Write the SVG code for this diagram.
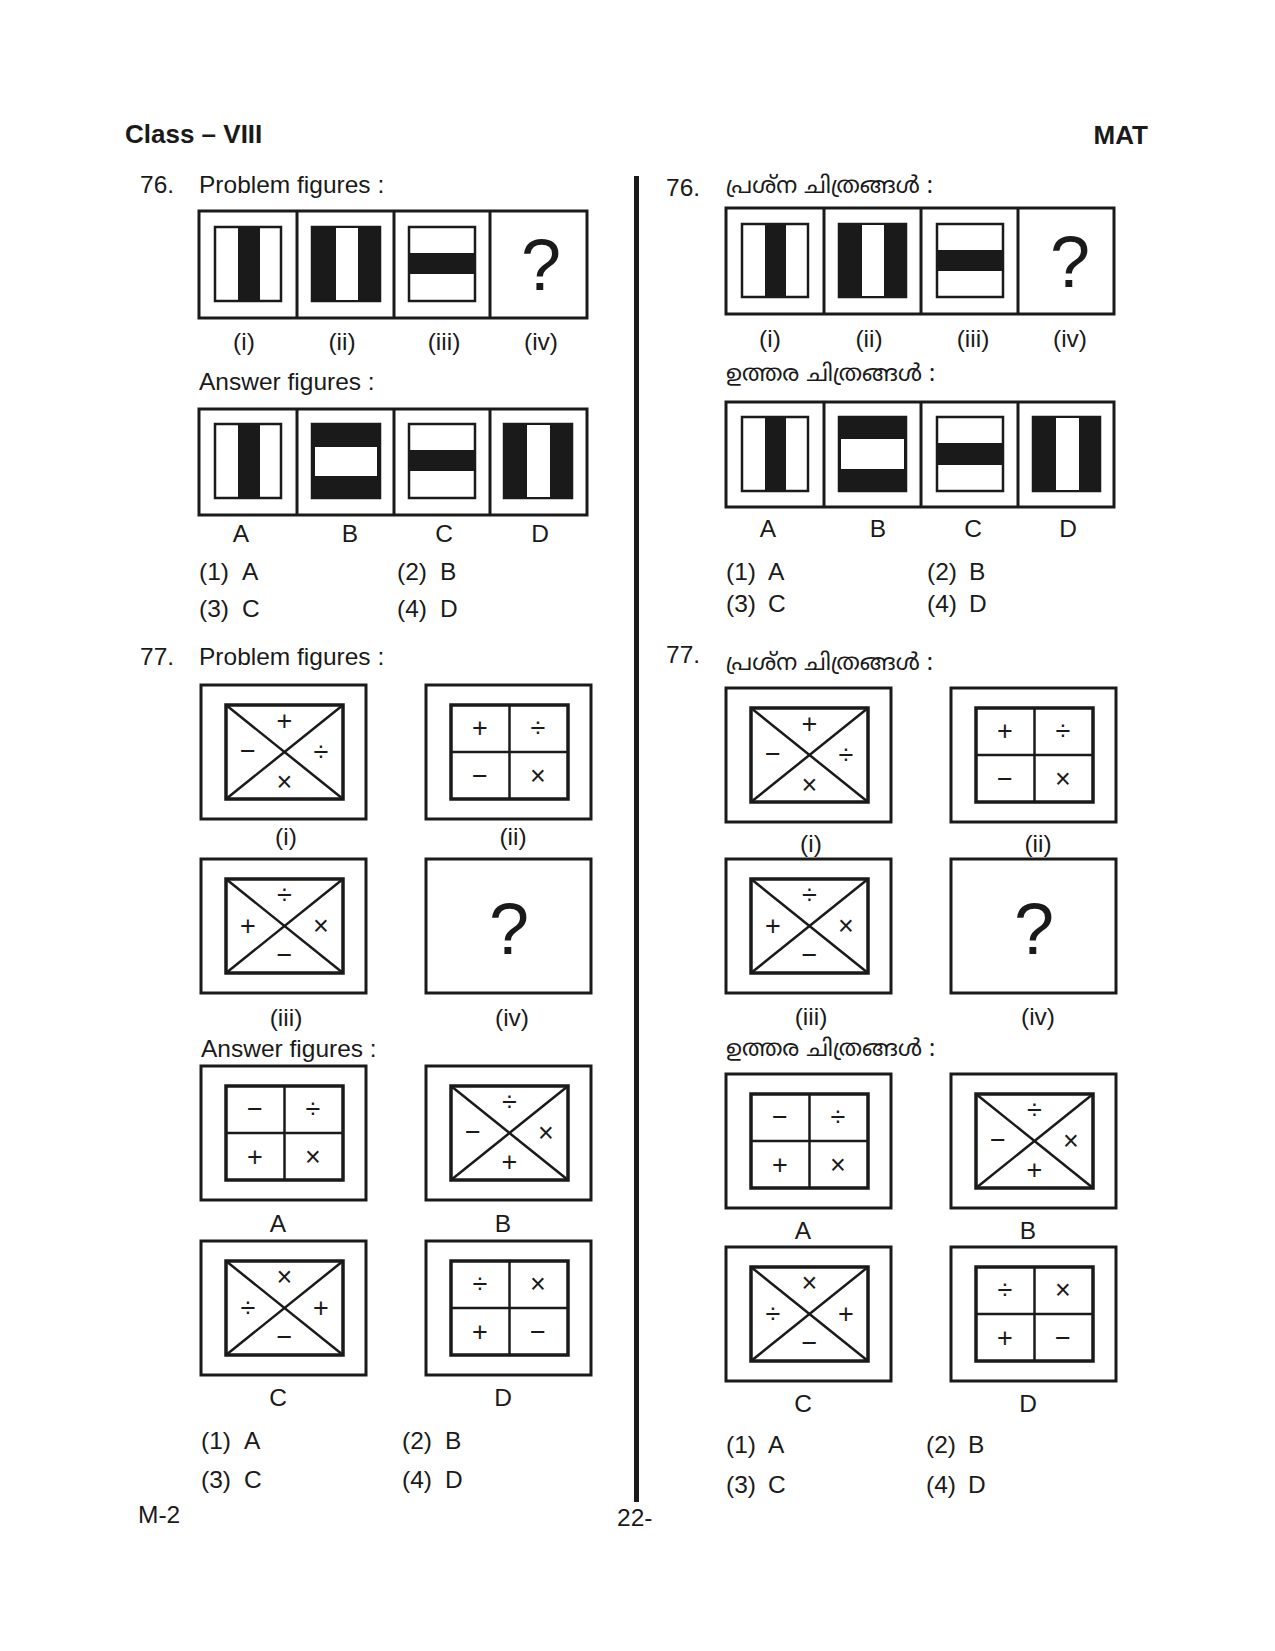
<svg xmlns="http://www.w3.org/2000/svg" width="1275" height="1651" viewBox="0 0 1275 1651">
<style>
text{font-family:"Liberation Sans",Arial,sans-serif;fill:#1a1a1a}
.t{font-size:24.5px}
.c{font-size:24.5px;text-anchor:middle}
.h{font-size:26px;font-weight:bold}
.q{font-size:72px;text-anchor:middle}
.s{font-size:27px;text-anchor:middle;dominant-baseline:central}
.ml{font-size:23px;font-family:"Noto Sans Malayalam","Noto Sans","DejaVu Sans",sans-serif}
.o{fill:none;stroke:#1a1a1a;stroke-width:3}
.i{fill:#fff;stroke:#1a1a1a;stroke-width:2.5}
.k{fill:#1a1a1a;stroke:#1a1a1a;stroke-width:2.5}
.w{fill:#fff}
.b{fill:#1a1a1a}
.ib{fill:none;stroke:#1a1a1a;stroke-width:3.5}
.d{stroke:#1a1a1a;stroke-width:2.5}
.v{stroke:#1a1a1a;stroke-width:3}
</style>
<defs>
<g id="box"><rect class="o" x="0" y="0" width="165" height="134"/><rect class="ib" x="25" y="20" width="117" height="94"/></g>
<g id="xbox"><use href="#box"/><line class="d" x1="25" y1="20" x2="142" y2="114"/><line class="d" x1="142" y1="20" x2="25" y2="114"/></g>
<g id="gbox"><use href="#box"/><line class="d" x1="83.5" y1="20" x2="83.5" y2="114"/><line class="d" x1="25" y1="67" x2="142" y2="67"/></g>
</defs>
<rect width="1275" height="1651" fill="#fff"/>
<text class="h" x="125" y="143">Class – VIII</text>
<text class="h" x="1148" y="144" text-anchor="end">MAT</text>
<rect x="634" y="176" width="5" height="1326" class="b"/>
<text class="t" x="140" y="193">76.</text>
<text class="t" x="199" y="193">Problem figures :</text>
<g id="L76p">
<rect class="o" x="199" y="211" width="388" height="107"/>
<line class="v" x1="297" y1="211" x2="297" y2="318"/><line class="v" x1="394" y1="211" x2="394" y2="318"/><line class="v" x1="490" y1="211" x2="490" y2="318"/>
<rect class="i" x="215" y="227" width="66" height="74"/><rect class="b" x="238" y="227" width="22" height="74"/>
<rect class="k" x="312" y="227" width="68" height="74"/><rect class="w" x="336" y="228" width="22" height="72"/>
<rect class="i" x="409" y="227" width="66" height="74"/><rect class="b" x="409" y="253" width="66" height="21"/>
<text class="q" x="541" y="290">?</text>
</g>
<text class="c" x="244" y="350">(i)</text><text class="c" x="342" y="350">(ii)</text><text class="c" x="444" y="350">(iii)</text><text class="c" x="541" y="350">(iv)</text>
<text class="t" x="199" y="390">Answer figures :</text>
<g id="L76a">
<rect class="o" x="199" y="409" width="388" height="106"/>
<line class="v" x1="297" y1="409" x2="297" y2="515"/><line class="v" x1="394" y1="409" x2="394" y2="515"/><line class="v" x1="490" y1="409" x2="490" y2="515"/>
<rect class="i" x="215" y="424" width="66" height="74"/><rect class="b" x="238" y="424" width="22" height="74"/>
<rect class="k" x="312" y="424" width="68" height="74"/><rect class="w" x="315" y="447" width="62" height="29"/>
<rect class="i" x="409" y="424" width="66" height="74"/><rect class="b" x="409" y="450" width="66" height="21"/>
<rect class="k" x="504" y="424" width="68" height="74"/><rect class="w" x="527" y="425" width="23" height="72"/>
</g>
<text class="c" x="241" y="542">A</text><text class="c" x="350" y="542">B</text><text class="c" x="444" y="542">C</text><text class="c" x="540" y="542">D</text>
<text class="t" x="199" y="580">(1)</text><text class="t" x="242" y="580">A</text><text class="t" x="397" y="580">(2)</text><text class="t" x="440" y="580">B</text>
<text class="t" x="199" y="617">(3)</text><text class="t" x="242" y="617">C</text><text class="t" x="397" y="617">(4)</text><text class="t" x="440" y="617">D</text>

<text class="t" x="140" y="665">77.</text>
<text class="t" x="199" y="665">Problem figures :</text>
<g id="L77i" transform="translate(201,685)"><use href="#xbox"/><text class="s" x="83.5" y="36">+</text><text class="s" x="47" y="66">−</text><text class="s" x="120" y="67">÷</text><text class="s" x="83.5" y="97">×</text></g>
<g id="L77ii" transform="translate(426,685)"><use href="#gbox"/><text class="s" x="54" y="43">+</text><text class="s" x="112" y="43">÷</text><text class="s" x="54" y="91">−</text><text class="s" x="112" y="91">×</text></g>
<g id="L77iii" transform="translate(201,859)"><use href="#xbox"/><text class="s" x="83.5" y="36">÷</text><text class="s" x="47" y="67">+</text><text class="s" x="120" y="67">×</text><text class="s" x="83.5" y="96">−</text></g>
<g id="L77iv" transform="translate(426,859)"><rect class="o" x="0" y="0" width="165" height="134"/><text class="q" x="83" y="95">?</text></g>
<text class="c" x="286" y="845">(i)</text><text class="c" x="513" y="845">(ii)</text><text class="c" x="286" y="1026">(iii)</text><text class="c" x="512" y="1026">(iv)</text>
<text class="t" x="201" y="1057">Answer figures :</text>
<g id="L77A" transform="translate(201,1066)"><use href="#gbox"/><text class="s" x="54" y="43">−</text><text class="s" x="112" y="43">÷</text><text class="s" x="54" y="91">+</text><text class="s" x="112" y="91">×</text></g>
<g id="L77B" transform="translate(426,1066)"><use href="#xbox"/><text class="s" x="83.5" y="36">÷</text><text class="s" x="47" y="66">−</text><text class="s" x="120" y="67">×</text><text class="s" x="83.5" y="96">+</text></g>
<g id="L77C" transform="translate(201,1241)"><use href="#xbox"/><text class="s" x="83.5" y="36">×</text><text class="s" x="47" y="67">÷</text><text class="s" x="120" y="67">+</text><text class="s" x="83.5" y="96">−</text></g>
<g id="L77D" transform="translate(426,1241)"><use href="#gbox"/><text class="s" x="54" y="43">÷</text><text class="s" x="112" y="43">×</text><text class="s" x="54" y="91">+</text><text class="s" x="112" y="91">−</text></g>
<text class="c" x="278" y="1232">A</text><text class="c" x="503" y="1232">B</text><text class="c" x="278" y="1406">C</text><text class="c" x="503" y="1406">D</text>
<text class="t" x="201" y="1449">(1)</text><text class="t" x="244" y="1449">A</text><text class="t" x="402" y="1449">(2)</text><text class="t" x="445" y="1449">B</text>
<text class="t" x="201" y="1488">(3)</text><text class="t" x="244" y="1488">C</text><text class="t" x="402" y="1488">(4)</text><text class="t" x="445" y="1488">D</text>
<text class="t" x="138" y="1523">M-2</text>
<text class="t" x="617" y="1526">22-</text>

<text class="t" x="666" y="196">76.</text>
<text class="ml" x="726" y="193">പ്രശ്ന ചിത്രങ്ങൾ :</text>
<g id="R76p">
<rect class="o" x="726" y="208" width="388" height="106"/>
<line class="v" x1="824" y1="208" x2="824" y2="314"/><line class="v" x1="921" y1="208" x2="921" y2="314"/><line class="v" x1="1018" y1="208" x2="1018" y2="314"/>
<rect class="i" x="742" y="224" width="66" height="73"/><rect class="b" x="765" y="224" width="21" height="73"/>
<rect class="k" x="839" y="224" width="67" height="73"/><rect class="w" x="862" y="225" width="22" height="71"/>
<rect class="i" x="937" y="224" width="66" height="73"/><rect class="b" x="937" y="250" width="66" height="21"/>
<text class="q" x="1070" y="287">?</text>
</g>
<text class="c" x="770" y="347">(i)</text><text class="c" x="869" y="347">(ii)</text><text class="c" x="973" y="347">(iii)</text><text class="c" x="1070" y="347">(iv)</text>
<text class="ml" x="726" y="381">ഉത്തര ചിത്രങ്ങൾ :</text>
<g id="R76a">
<rect class="o" x="726" y="402" width="388" height="105"/>
<line class="v" x1="824" y1="402" x2="824" y2="507"/><line class="v" x1="921" y1="402" x2="921" y2="507"/><line class="v" x1="1018" y1="402" x2="1018" y2="507"/>
<rect class="i" x="742" y="417" width="66" height="74"/><rect class="b" x="765" y="417" width="21" height="74"/>
<rect class="k" x="839" y="417" width="67" height="74"/><rect class="w" x="841" y="439" width="63" height="30"/>
<rect class="i" x="937" y="417" width="66" height="74"/><rect class="b" x="937" y="443" width="66" height="22"/>
<rect class="k" x="1033" y="417" width="67" height="74"/><rect class="w" x="1056" y="418" width="23" height="72"/>
</g>
<text class="c" x="768" y="537">A</text><text class="c" x="878" y="537">B</text><text class="c" x="973" y="537">C</text><text class="c" x="1068" y="537">D</text>
<text class="t" x="726" y="580">(1)</text><text class="t" x="768" y="580">A</text><text class="t" x="927" y="580">(2)</text><text class="t" x="969" y="580">B</text>
<text class="t" x="726" y="612">(3)</text><text class="t" x="768" y="612">C</text><text class="t" x="927" y="612">(4)</text><text class="t" x="969" y="612">D</text>

<text class="t" x="666" y="663">77.</text>
<text class="ml" x="726" y="670">പ്രശ്ന ചിത്രങ്ങൾ :</text>
<g id="R77i" transform="translate(726,688)"><use href="#xbox"/><text class="s" x="83.5" y="36">+</text><text class="s" x="47" y="66">−</text><text class="s" x="120" y="67">÷</text><text class="s" x="83.5" y="97">×</text></g>
<g id="R77ii" transform="translate(951,688)"><use href="#gbox"/><text class="s" x="54" y="43">+</text><text class="s" x="112" y="43">÷</text><text class="s" x="54" y="91">−</text><text class="s" x="112" y="91">×</text></g>
<g id="R77iii" transform="translate(726,859)"><use href="#xbox"/><text class="s" x="83.5" y="36">÷</text><text class="s" x="47" y="67">+</text><text class="s" x="120" y="67">×</text><text class="s" x="83.5" y="96">−</text></g>
<g id="R77iv" transform="translate(951,859)"><rect class="o" x="0" y="0" width="165" height="134"/><text class="q" x="83" y="95">?</text></g>
<text class="c" x="811" y="852">(i)</text><text class="c" x="1038" y="852">(ii)</text><text class="c" x="811" y="1025">(iii)</text><text class="c" x="1038" y="1025">(iv)</text>
<text class="ml" x="726" y="1056">ഉത്തര ചിത്രങ്ങൾ :</text>
<g id="R77A" transform="translate(726,1074)"><use href="#gbox"/><text class="s" x="54" y="43">−</text><text class="s" x="112" y="43">÷</text><text class="s" x="54" y="91">+</text><text class="s" x="112" y="91">×</text></g>
<g id="R77B" transform="translate(951,1074)"><use href="#xbox"/><text class="s" x="83.5" y="36">÷</text><text class="s" x="47" y="66">−</text><text class="s" x="120" y="67">×</text><text class="s" x="83.5" y="96">+</text></g>
<g id="R77C" transform="translate(726,1247)"><use href="#xbox"/><text class="s" x="83.5" y="36">×</text><text class="s" x="47" y="67">÷</text><text class="s" x="120" y="67">+</text><text class="s" x="83.5" y="96">−</text></g>
<g id="R77D" transform="translate(951,1247)"><use href="#gbox"/><text class="s" x="54" y="43">÷</text><text class="s" x="112" y="43">×</text><text class="s" x="54" y="91">+</text><text class="s" x="112" y="91">−</text></g>
<text class="c" x="803" y="1239">A</text><text class="c" x="1028" y="1239">B</text><text class="c" x="803" y="1412">C</text><text class="c" x="1028" y="1412">D</text>
<text class="t" x="726" y="1453">(1)</text><text class="t" x="768" y="1453">A</text><text class="t" x="926" y="1453">(2)</text><text class="t" x="968" y="1453">B</text>
<text class="t" x="726" y="1493">(3)</text><text class="t" x="768" y="1493">C</text><text class="t" x="926" y="1493">(4)</text><text class="t" x="968" y="1493">D</text>
</svg>
